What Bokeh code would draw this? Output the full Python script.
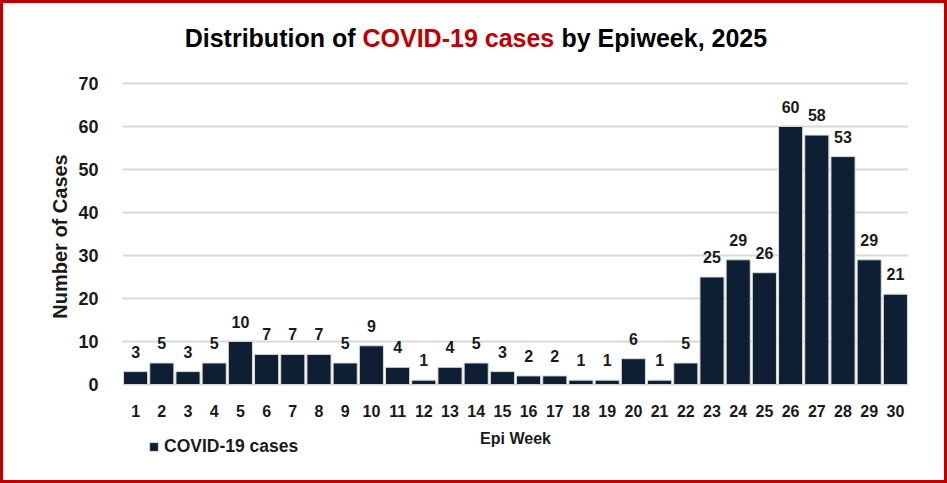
from bokeh.plotting import figure
from bokeh.models import (FactorRange, Range1d, FixedTicker, ColumnDataSource,
                          LabelSet, Label, Legend, LegendItem)
from bokeh.core.properties import value
from bokeh.embed import file_html
from bokeh.resources import INLINE

weeks = ["1", "2", "3", "4", "5", "6", "7", "8", "9", "10",
         "11", "12", "13", "14", "15", "16", "17", "18", "19", "20",
         "21", "22", "23", "24", "25", "26", "27", "28", "29", "30"]
cases = [3, 5, 3, 5, 10, 7, 7, 7, 5, 9,
         4, 1, 4, 5, 3, 2, 2, 1, 1, 6,
         1, 5, 25, 29, 26, 60, 58, 53, 29, 21]
y_ticks = [0, 10, 20, 30, 40, 50, 60, 70]
title_left = "Distribution of"
title_mid = "COVID-19 cases"
title_right = "by Epiweek, 2025"
series_name = "COVID-19 cases"

FONT = "Liberation Sans"
BAR = "#0E1F33"
RED = "#C00000"
TXT = "#1A1A1A"

# layout in canvas pixels: the frame spans (almost) the whole canvas so that the
# title and the legend can live inside it; the x axis is pinned at y = 0.
W, H = 947, 483
FR_LEFT, FR_RIGHT, FR_TOP, FR_BOTTOM = 119, 905, 9, 457
ZERO_PX, SEVENTY_PX = 381, 80
px_per_unit = (ZERO_PX - SEVENTY_PX) / 70
y_start = -(FR_BOTTOM - ZERO_PX) / px_per_unit
y_end = (ZERO_PX - FR_TOP) / px_per_unit

src = ColumnDataSource(dict(week=weeks, cases=cases, lbl=[str(c) for c in cases]))

p = figure(x_range=FactorRange(*weeks, range_padding=0), y_range=Range1d(y_start, y_end),
           width=W, height=H, output_backend="svg", toolbar_location=None,
           min_border_left=FR_LEFT, min_border_right=W - FR_RIGHT,
           min_border_top=FR_TOP, min_border_bottom=H - FR_BOTTOM)
p.styles = {"border": "3px solid " + RED}
p.outline_line_color = None
p.background_fill_color = "white"
p.border_fill_color = "white"

bars = p.vbar(x="week", top="cases", bottom=0, width=0.92, source=src,
              fill_color=BAR, line_color="#D9D9D9", line_width=1)

p.add_layout(LabelSet(x="week", y="cases", text="lbl", source=src,
                      y_offset=14, text_align="center", text_baseline="bottom",
                      text_font=value(FONT), text_font_size="16px", text_font_style="bold",
                      text_color=TXT))

p.xgrid.grid_line_color = None
p.ygrid.grid_line_color = "#D9D9D9"
p.ygrid.grid_line_width = 2
p.yaxis.ticker = FixedTicker(ticks=y_ticks)

for ax in (p.xaxis[0], p.yaxis[0]):
    ax.axis_line_color = None
    ax.major_tick_line_color = None
    ax.minor_tick_line_color = None
    ax.major_label_text_font = FONT
    ax.major_label_text_font_style = "bold"
    ax.major_label_text_color = TXT
    ax.axis_label_text_font = FONT
    ax.axis_label_text_font_style = "bold"
    ax.axis_label_text_color = TXT

p.xaxis.fixed_location = 0
p.xaxis.major_label_text_font_size = "16px"
p.xaxis.major_label_standoff = 14
p.xaxis.axis_label = "Epi Week"
p.xaxis.axis_label_text_font_size = "16px"
p.xaxis.axis_label_standoff = 10

p.yaxis.major_label_text_font_size = "18px"
p.yaxis.major_label_standoff = 18
p.yaxis.axis_label = "Number of Cases"
p.yaxis.axis_label_text_font_size = "20px"
p.yaxis.axis_label_standoff = 4

TITLE_Y = FR_BOTTOM - 34
common = dict(x_units="screen", y_units="screen", text_baseline="middle",
              text_font=FONT, text_font_size="25px", text_font_style="bold")
p.add_layout(Label(x=233, y=TITLE_Y, text=title_left, text_align="right", text_color="black", **common))
p.add_layout(Label(x=240, y=TITLE_Y, text=title_mid, text_align="left", text_color=RED, **common))
p.add_layout(Label(x=439, y=TITLE_Y, text=title_right, text_align="left", text_color="black", **common))

legend = Legend(items=[LegendItem(label=series_name, renderers=[bars])],
                location=(26, 3), orientation="horizontal",
                glyph_width=11, glyph_height=11, label_standoff=5, label_height=20,
                padding=0, margin=0, spacing=0,
                label_text_font=FONT, label_text_font_size="17.5px", label_text_font_style="bold",
                label_text_color=TXT,
                border_line_color=None, background_fill_alpha=0)
p.add_layout(legend, "center")

open("out.html", "w").write(file_html(p, INLINE))
